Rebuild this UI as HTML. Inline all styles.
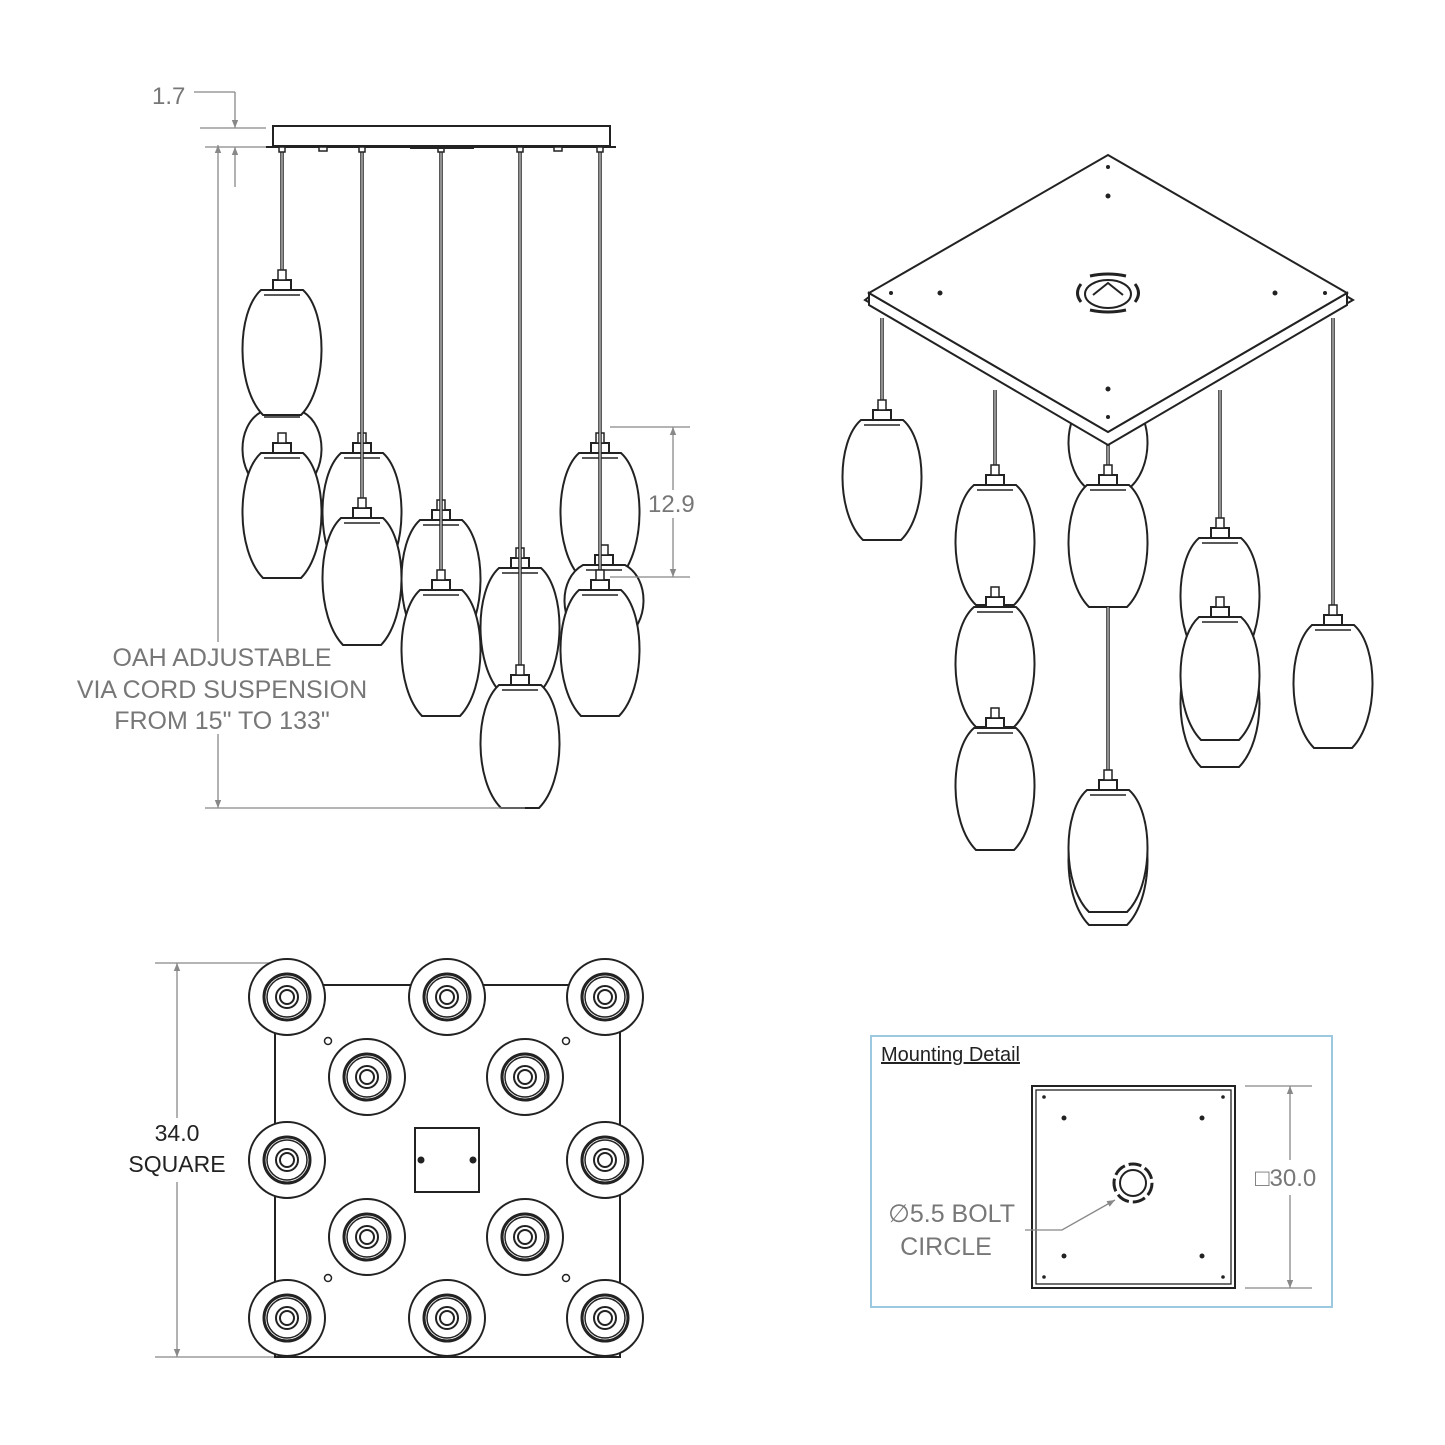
<!DOCTYPE html>
<html><head><meta charset="utf-8"><style>
html,body{margin:0;padding:0;background:#fff;}
svg{display:block}
.t{font-family:"Liberation Sans",sans-serif;fill:#777;}
</style></head><body>
<svg id="s" width="1445" height="1445" viewBox="0 0 1445 1445" xmlns="http://www.w3.org/2000/svg">
<defs>
<marker id="ar" viewBox="0 0 10 10" refX="10" refY="5" markerWidth="8" markerHeight="14" orient="auto-start-reverse" markerUnits="userSpaceOnUse"><path d="M0,1 L10,5 L0,9 Z" fill="#888"/></marker>
</defs>
<g id="front" fill="none" stroke="#222" stroke-width="2">
<rect x="273" y="126" width="337" height="20" fill="#fff"/>
<line x1="266" y1="147" x2="616" y2="147"/>
</g>
<g id="shadesF"></g>
<g id="iso" fill="#fff" stroke="#222" stroke-width="2"></g>
<g id="shadesI"></g>
<g id="isoTop" stroke="#222" stroke-width="2" fill="#fff">
<polygon points="865,300 1108,440 1353,300 1348,297 1108,435 869,297"/>
<polygon points="869,293 869,305 1108,445 1347,305 1347,293 1108,432"/>
<polygon points="1108,155 1347,293 1108,432 869,293"/>
<g fill="#222" stroke="none">
<circle cx="1108" cy="167" r="2"/><circle cx="1108" cy="196" r="2.5"/>
<circle cx="891" cy="293" r="2"/><circle cx="940" cy="293" r="2.5"/>
<circle cx="1275" cy="293" r="2.5"/><circle cx="1325" cy="293" r="2"/>
<circle cx="1108" cy="389" r="2.5"/><circle cx="1108" cy="417" r="2"/>
</g>
<ellipse cx="1108" cy="294" rx="23" ry="14" fill="#fff"/>
<path d="M1093,295 L1108,283 L1123,295" fill="none"/>
<path d="M1090,276 Q1108,272 1126,276 M1090,310 Q1108,314 1126,310 M1081,284 Q1074,293 1081,302 M1135,284 Q1142,293 1135,302" fill="none" stroke-width="3"/>
</g>
<!-- dims front -->
<g stroke="#888" stroke-width="1.3" fill="none">
<line x1="194" y1="92" x2="235" y2="92"/>
<line x1="235" y1="92" x2="235" y2="128" marker-end="url(#ar)"/>
<line x1="235" y1="187" x2="235" y2="147" marker-end="url(#ar)"/>
<line x1="200" y1="128" x2="266" y2="128"/>
<line x1="205" y1="147" x2="266" y2="147"/>
<line x1="218" y1="145" x2="218" y2="808" marker-start="url(#ar)" marker-end="url(#ar)"/>
<line x1="205" y1="808" x2="525" y2="808"/>
<line x1="610" y1="427" x2="690" y2="427"/>
<line x1="610" y1="577" x2="690" y2="577"/>
<line x1="673" y1="427" x2="673" y2="490" marker-start="url(#ar)"/>
<line x1="673" y1="518" x2="673" y2="577" marker-end="url(#ar)"/>
<line x1="155" y1="963" x2="275" y2="963"/>
<line x1="155" y1="1357" x2="280" y2="1357"/>
<line x1="177" y1="963" x2="177" y2="1118" marker-start="url(#ar)"/>
<line x1="177" y1="1182" x2="177" y2="1357" marker-end="url(#ar)"/>
</g>
<text class="t" x="152" y="104" font-size="24">1.7</text>
<text class="t" x="648" y="512" font-size="24">12.9</text>
<rect x="195" y="642" width="46" height="92" fill="#fff"/>
<g class="t" font-size="25" text-anchor="middle">
<text x="222" y="666">OAH ADJUSTABLE</text>
<text x="222" y="698">VIA CORD SUSPENSION</text>
<text x="222" y="729">FROM 15" TO 133"</text>
</g>
<g font-family="Liberation Sans,sans-serif" fill="#222" font-size="23" text-anchor="middle">
<text x="177" y="1141">34.0</text>
<text x="177" y="1172">SQUARE</text>
</g>
<!-- bottom view -->
<g id="bottom" stroke="#222" stroke-width="2" fill="#fff">
<rect x="275" y="985" width="345" height="372"/>
<rect x="415" y="1128" width="64" height="64"/>
<circle cx="421" cy="1160" r="2.5" fill="#222"/><circle cx="473" cy="1160" r="2.5" fill="#222"/>
<circle cx="328" cy="1041" r="3.5" stroke-width="1.5"/><circle cx="566" cy="1041" r="3.5" stroke-width="1.5"/>
<circle cx="328" cy="1278" r="3.5" stroke-width="1.5"/><circle cx="566" cy="1278" r="3.5" stroke-width="1.5"/>
</g>
<!-- mounting detail -->
<rect x="871" y="1036" width="461" height="271" fill="none" stroke="#9cc8e0" stroke-width="2"/>
<text x="881" y="1061" font-family="Liberation Sans,sans-serif" font-size="20" fill="#222" text-decoration="underline">Mounting Detail</text>
<g stroke="#222" fill="none">
<rect x="1032" y="1086" width="203" height="202" stroke-width="2"/>
<rect x="1036" y="1090" width="195" height="194" stroke-width="1.3"/>
<circle cx="1133" cy="1183" r="13" stroke-width="2"/>
<circle cx="1133" cy="1183" r="19" stroke-width="3" stroke-dasharray="13 4"/>
</g>
<g fill="#222">
<circle cx="1044" cy="1097" r="1.8"/><circle cx="1223" cy="1097" r="1.8"/>
<circle cx="1044" cy="1277" r="1.8"/><circle cx="1223" cy="1277" r="1.8"/>
<circle cx="1064" cy="1118" r="2.5"/><circle cx="1202" cy="1118" r="2.5"/>
<circle cx="1064" cy="1256" r="2.5"/><circle cx="1202" cy="1256" r="2.5"/>
</g>
<g stroke="#888" stroke-width="1.3" fill="none">
<polyline points="1025,1230 1062,1230 1115,1200" marker-end="url(#ar)"/>
<line x1="1245" y1="1086" x2="1312" y2="1086"/>
<line x1="1245" y1="1288" x2="1312" y2="1288"/>
<line x1="1290" y1="1086" x2="1290" y2="1160" marker-start="url(#ar)"/>
<line x1="1290" y1="1195" x2="1290" y2="1288" marker-end="url(#ar)"/>
</g>
<text class="t" x="1255" y="1186" font-size="24">□30.0</text>
<text class="t" x="1015" y="1222" font-size="25" text-anchor="end">∅5.5 BOLT</text>
<text class="t" x="946" y="1255" font-size="25" text-anchor="middle">CIRCLE</text>
</svg>
<script>
var NS="http://www.w3.org/2000/svg";
function el(p,tag,a){var e=document.createElementNS(NS,tag);for(var k in a)e.setAttribute(k,a[k]);p.appendChild(e);return e;}
function shade(g,cx,t,b){
  var h=b-t;
  el(g,"path",{d:"M"+(cx-21)+","+t+" C"+(cx-46)+","+(t+h*0.18)+" "+(cx-46)+","+(b-h*0.22)+" "+(cx-19)+","+b+" L"+(cx+19)+","+b+" C"+(cx+46)+","+(b-h*0.22)+" "+(cx+46)+","+(t+h*0.18)+" "+(cx+21)+","+t+" Z",fill:"#fff",stroke:"#222","stroke-width":2});
  el(g,"line",{x1:cx-18,y1:t+5,x2:cx+18,y2:t+5,stroke:"#222","stroke-width":1.5});
  el(g,"rect",{x:cx-9,y:t-10,width:18,height:10,fill:"#fff",stroke:"#222","stroke-width":2});
  el(g,"rect",{x:cx-4,y:t-20,width:8,height:10,fill:"#fff",stroke:"#222","stroke-width":1.5});
}
function cord(g,x,y1,y2){el(g,"line",{x1:x,y1:y1,x2:x,y2:y2,stroke:"#222","stroke-width":3.5});el(g,"line",{x1:x,y1:y1,x2:x,y2:y2,stroke:"#fff","stroke-width":1});}
var F=document.getElementById("shadesF");
[[282,412,490],[362,453,578],[600,453,578],[604,565,640],[441,520,645],[520,568,693]].forEach(function(s){shade(F,s[0],s[1],s[2]);});
cord(F,282,147,270);
shade(F,282,290,415);shade(F,282,453,578);
cord(F,362,147,505);shade(F,362,518,645);
cord(F,441,147,575);shade(F,441,590,716);
cord(F,520,147,672);shade(F,520,685,808);
cord(F,600,147,578);shade(F,600,590,716);
[[282,147],[362,147],[441,147],[520,147],[600,147]].forEach(function(c){el(F,"rect",{x:c[0]-3,y:147,width:6,height:5,fill:"#fff",stroke:"#222","stroke-width":1.5});});
[323,558].forEach(function(x){el(F,"rect",{x:x-4,y:147,width:8,height:4,fill:"#fff",stroke:"#222","stroke-width":1.5});});
el(F,"line",{x1:410,y1:148,x2:474,y2:148,stroke:"#222","stroke-width":2});
var I=document.getElementById("shadesI");
shade(I,1108,400,490);
shade(I,1220,645,767);
shade(I,1108,802,925);
cord(I,882,318,402);shade(I,882,420,540);
cord(I,995,390,468);shade(I,995,485,605);shade(I,995,607,727);shade(I,995,728,850);
cord(I,1108,440,468);shade(I,1108,485,607);
cord(I,1108,607,772);shade(I,1108,790,912);
cord(I,1220,390,520);shade(I,1220,538,660);shade(I,1220,617,740);
cord(I,1333,318,607);shade(I,1333,625,748);
var B=document.getElementById("bottom");
[[287,997],[447,997],[605,997],[367,1077],[525,1077],[287,1160],[605,1160],[367,1237],[525,1237],[287,1318],[447,1318],[605,1318]].forEach(function(p){
 el(B,"circle",{cx:p[0],cy:p[1],r:38,fill:"#fff"});
 el(B,"circle",{cx:p[0],cy:p[1],r:23,"stroke-width":3});
 el(B,"circle",{cx:p[0],cy:p[1],r:20,"stroke-width":1.5});
 el(B,"circle",{cx:p[0],cy:p[1],r:11,"stroke-width":2});
 el(B,"circle",{cx:p[0],cy:p[1],r:7,"stroke-width":2});
});
</script>
</body></html>
